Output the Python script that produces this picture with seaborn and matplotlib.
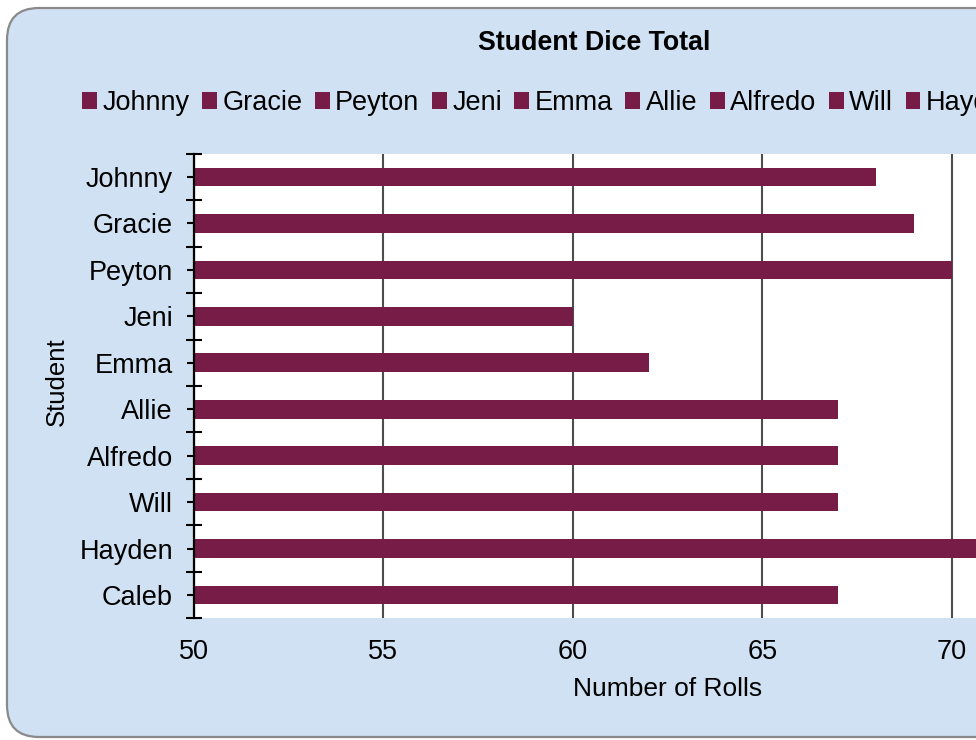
import numpy as np
import pandas as pd
import seaborn as sns
import matplotlib.pyplot as plt
from matplotlib.patches import FancyBboxPatch, Patch

# chart data
students = ['Johnny', 'Gracie', 'Peyton', 'Jeni', 'Emma',
            'Allie', 'Alfredo', 'Will', 'Hayden', 'Caleb']
rolls = [68, 69, 70, 60, 62, 67, 67, 67, 72, 67]
x_ticks = [50, 55, 60, 65, 70, 75]

bar_color = '#761C47'
panel_color = '#CFE1F2'

sns.set_style('white')
plt.rcParams['font.family'] = ['Liberation Sans', 'DejaVu Sans']
plt.rcParams['text.color'] = 'black'
plt.rcParams['axes.labelcolor'] = 'black'
plt.rcParams['xtick.color'] = 'black'
plt.rcParams['ytick.color'] = 'black'

df = pd.DataFrame({'Student': students, 'Rolls': rolls})

fig = plt.figure(figsize=(9.76, 7.4), dpi=100)
fig.patch.set_facecolor('white')

# rounded light blue chart area (the right side runs off the picture)
panel = FancyBboxPatch((0.07, 0.03), 11.74, 7.29,
                       boxstyle='round,pad=0,rounding_size=0.32',
                       transform=fig.dpi_scale_trans,
                       facecolor=panel_color, edgecolor='#8A8A8A',
                       linewidth=1.6, zorder=0)
fig.add_artist(panel)

# plot area, wider than the figure so it gets cut at the right edge
ax = fig.add_axes([193.5 / 976, 1 - 618.2 / 740, 948.3 / 976, 464.4 / 740])
ax.set_facecolor('white')

sns.barplot(data=df, x='Rolls', y='Student', hue='Student',
            palette=[bar_color] * len(students), width=0.4,
            saturation=1, legend=False, linewidth=0, ax=ax, zorder=3)

ax.set_xlim(50, 75)
ax.set_ylim(9.5, -0.5)
ax.set_xticks(x_ticks)
ax.grid(axis='x', color='#4D4D4D', linewidth=1.5, zorder=1)
ax.grid(axis='y', visible=False)
ax.set_axisbelow(True)

for side in ['top', 'right', 'bottom']:
    ax.spines[side].set_visible(False)
ax.spines['left'].set_color('black')
ax.spines['left'].set_linewidth(1.6)
ax.spines['left'].set_zorder(5)

ax.tick_params(axis='x', length=0, pad=15, labelsize=19.5)
ax.tick_params(axis='y', which='major', direction='inout', length=9.5,
               width=1.5, color='black', pad=10, labelsize=19.5, left=True)
ax.set_yticks(np.arange(-0.5, len(students), 1), minor=True)
ax.tick_params(axis='y', which='minor', direction='inout', length=11.5,
               width=1.5, color='black', left=True)

ax.set_xlabel('Number of Rolls', fontsize=19)
ax.set_ylabel('Student', fontsize=18.5)
ax.xaxis.set_label_coords(0.5, -0.127)
ax.yaxis.set_label_coords(-0.131, 0.51)

fig.text(594 / 976, 1 - 43 / 740, 'Student Dice Total',
         ha='center', va='center', fontsize=19.3, fontweight='bold')

handles = [Patch(facecolor=bar_color, edgecolor=bar_color, linewidth=0, label=s)
           for s in students]
fig.legend(handles=handles, loc='center left',
           bbox_to_anchor=(82 / 976, 1 - 103 / 740), ncol=len(students),
           frameon=False, fontsize=19.5, handlelength=0.55, handleheight=0.55,
           handletextpad=0.2, columnspacing=0.46, borderpad=0, borderaxespad=0)

fig.savefig('out.png', dpi=100)
